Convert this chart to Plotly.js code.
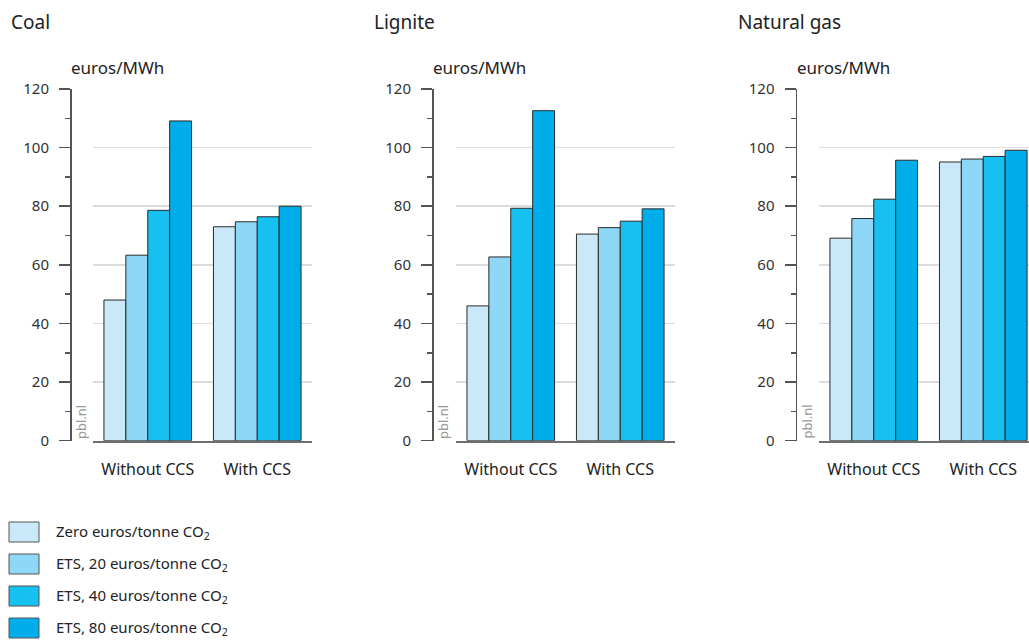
<!DOCTYPE html>
<html>
<head>
<meta charset="utf-8">
<script src="https://cdn.plot.ly/plotly-3.0.1.min.js"></script>
<style>html,body{margin:0;padding:0;background:#fff;overflow:hidden}#chart{width:1029px;height:643px}</style>
</head>
<body>
<div id="chart"></div>
<script>
const categories = ['Without CCS', 'With CCS'];
const panelTitles = ['Coal', 'Lignite', 'Natural gas'];
const unitLabel = 'euros/MWh';
const seriesNames = [
  'Zero euros/tonne CO<sub>2</sub>',
  'ETS, 20 euros/tonne CO<sub>2</sub>',
  'ETS, 40 euros/tonne CO<sub>2</sub>',
  'ETS, 80 euros/tonne CO<sub>2</sub>'
];
const seriesColors = ['#c9e9f9', '#8fd7f6', '#16c0f1', '#00adeb'];

const coalZero = [48.0, 73.0];
const coalEts20 = [63.3, 74.7];
const coalEts40 = [78.6, 76.4];
const coalEts80 = [109.1, 80.0];

const ligniteZero = [46.0, 70.5];
const ligniteEts20 = [62.7, 72.7];
const ligniteEts40 = [79.3, 74.9];
const ligniteEts80 = [112.6, 79.1];

const gasZero = [69.1, 95.1];
const gasEts20 = [75.8, 96.1];
const gasEts40 = [82.4, 97.0];
const gasEts80 = [95.7, 99.1];

const yTicks = [0, 20, 40, 60, 80, 100, 120];

const W = 1029, H = 643;
const panels = [
  {data: [coalZero, coalEts20, coalEts40, coalEts80], axisX: 70, x0: 93, x1: 312, titleX: 9},
  {data: [ligniteZero, ligniteEts20, ligniteEts40, ligniteEts80], axisX: 432, x0: 456, x1: 675, titleX: 372},
  {data: [gasZero, gasEts20, gasEts40, gasEts80], axisX: 795.5, x0: 819, x1: 1038, titleX: 736}
];
const yTop = 89, yBot = 440.7;
const font = 'Noto Sans, Open Sans, sans-serif';

const traces = [];
const layout = {
  width: W, height: H,
  margin: {l: 0, r: 0, t: 0, b: 0},
  paper_bgcolor: '#fff', plot_bgcolor: 'rgba(0,0,0,0)',
  barmode: 'group', bargap: 0.2, bargroupgap: 0,
  showlegend: false,
  font: {family: font, color: '#333'},
  annotations: [], shapes: []
};

panels.forEach((p, pi) => {
  const sfx = pi === 0 ? '' : String(pi + 1);
  const xr = Math.min(p.x1, W);
  const catW = (p.x1 - p.x0) / 2;
  const rangeEnd = -0.5 + (xr - p.x0) / catW;
  p.data.forEach((vals, si) => {
    traces.push({
      type: 'bar', x: categories, y: vals, name: seriesNames[si],
      xaxis: 'x' + sfx, yaxis: 'y' + sfx,
      marker: {color: seriesColors[si], line: {color: '#2a2a2a', width: 1}},
      hoverinfo: 'y'
    });
  });
  layout['xaxis' + sfx] = {
    domain: [p.x0 / W, xr / W], anchor: 'y' + sfx,
    range: [-0.5, rangeEnd], type: 'category',
    showline: true, linecolor: '#6e6e6e', linewidth: 2,
    ticks: '', showgrid: false, zeroline: false,
    tickfont: {size: 16, color: '#222', family: font},
    ticklabelstandoff: 13, fixedrange: true
  };
  layout['yaxis' + sfx] = {
    domain: [(H - yBot) / H, (H - yTop) / H],
    anchor: 'free', position: p.axisX / W,
    range: [0, 120], tickvals: yTicks,
    showline: true, linecolor: '#555', linewidth: 1.5,
    ticks: 'outside', ticklen: 11, tickwidth: 1.5, tickcolor: '#555',
    minor: {dtick: 10, ticks: 'outside', ticklen: 5, tickwidth: 1.5, tickcolor: '#555', showgrid: false},
    showgrid: true, gridcolor: '#dcdcdc', gridwidth: 1.5,
    zeroline: false,
    tickfont: {size: 15, color: '#333', family: font},
    ticklabelstandoff: 7, fixedrange: true
  };
  layout.annotations.push({
    text: panelTitles[pi], xref: 'paper', yref: 'paper',
    x: p.titleX / W, y: 1 - 22 / H, xanchor: 'left', yanchor: 'middle',
    showarrow: false, font: {size: 19, color: '#222', family: font}
  });
  layout.annotations.push({
    text: unitLabel, xref: 'paper', yref: 'paper',
    x: (p.axisX - 1) / W, y: 1 - 67 / H, xanchor: 'left', yanchor: 'middle',
    showarrow: false, font: {size: 17, color: '#222', family: font}
  });
  layout.annotations.push({
    text: 'pbl.nl', xref: 'paper', yref: 'paper',
    x: (p.axisX + 11) / W, y: 1 - 422 / H, xanchor: 'center', yanchor: 'middle',
    textangle: -90, showarrow: false, font: {size: 13, color: '#999', family: font}
  });
});

// legend
const legTop = [522, 554, 586, 618];
seriesNames.forEach((n, i) => {
  const y0 = legTop[i], y1 = y0 + 20;
  layout.shapes.push({
    type: 'rect', xref: 'paper', yref: 'paper',
    x0: 9 / W, x1: 39 / W, y0: 1 - y1 / H, y1: 1 - y0 / H,
    fillcolor: seriesColors[i], line: {color: '#555', width: 1}
  });
  layout.annotations.push({
    text: n, xref: 'paper', yref: 'paper',
    x: 54 / W, y: 1 - (y0 + 10) / H, xanchor: 'left', yanchor: 'middle',
    showarrow: false, font: {size: 15, color: '#222', family: font}
  });
});

Plotly.newPlot('chart', traces, layout, {displayModeBar: false, staticPlot: true});
</script>
</body>
</html>
